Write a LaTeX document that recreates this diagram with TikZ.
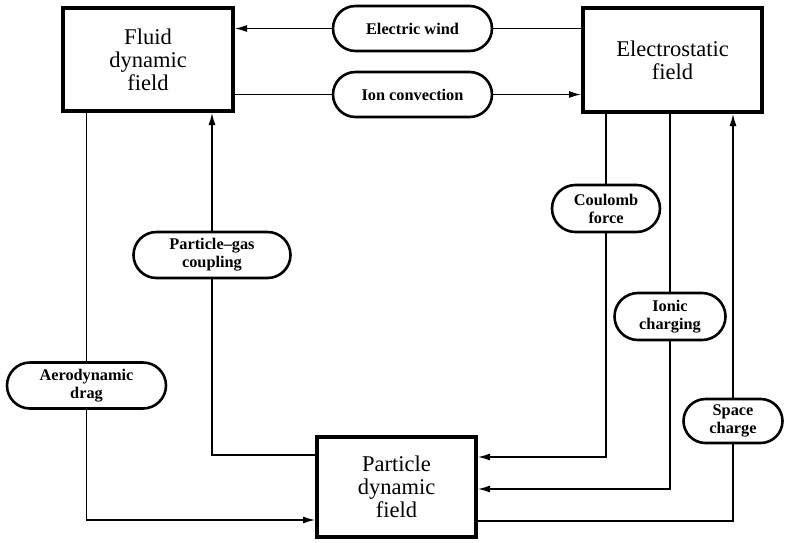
\documentclass[tikz,border=0pt]{standalone}
\usepackage{fontspec}
\setmainfont{Liberation Serif}
\usetikzlibrary{arrows.meta,shapes.misc}
\begin{document}
\begin{tikzpicture}[x=1pt,y=-1pt,
  field/.style={draw,line width=4pt,inner sep=0pt,align=center,
    font=\fontsize{22.5}{23}\selectfont},
  pill/.style={draw,rounded rectangle,line width=2.6pt,inner sep=0pt,align=center,
    font=\bfseries\fontsize{16.3}{18}\selectfont},
  conn/.style={line width=1.3pt},
  arr/.style={conn,-{Latex[length=12pt,width=7pt]}}]
\useasboundingbox (0,0) rectangle (785,542);
\node[field,minimum width=170pt,minimum height=103pt] (fluid) at (148,59.5) {Fluid\\dynamic\\field};
\node[field,minimum width=179pt,minimum height=104pt] (elec) at (672.5,60) {Electrostatic\\field};
\node[field,minimum width=159pt,minimum height=100pt] (part) at (396.5,487) {Particle\\dynamic\\field};
\node[pill,minimum width=159pt,minimum height=45pt] (wind) at (412.5,28.5) {Electric wind};
\node[pill,minimum width=159pt,minimum height=45pt] (ionc) at (412.5,94.5) {Ion convection};
\node[pill,minimum width=108pt,minimum height=47pt] (coul) at (606,208.5) {Coulomb\\force};
\node[pill,minimum width=111pt,minimum height=47pt] (ionic) at (670,316.5) {Ionic\\charging};
\node[pill,minimum width=99pt,minimum height=44pt] (space) at (733,421) {Space\\charge};
\node[pill,minimum width=159pt,minimum height=46pt] (aero) at (86.5,385.5) {Aerodynamic\\drag};
\node[pill,minimum width=157pt,minimum height=46pt] (pgc) at (212,255) {Particle--gas\\coupling};
% electric wind
\draw[conn] (wind.east) -- (wind.east -| elec.west);
\draw[arr] (wind.west) -- (wind.west -| fluid.east);
% ion convection
\draw[conn] (ionc.west -| fluid.east) -- (ionc.west);
\draw[arr] (ionc.east) -- (ionc.east -| elec.west);
% aerodynamic drag
\draw[conn] (aero.north |- fluid.south) -- (aero.north);
\draw[arr] (aero.south) |- ([yshift=-33pt]part.west);
% particle-gas coupling
\draw[arr] (pgc.north) -- (pgc.north |- fluid.south);
\draw[conn] (pgc.south) |- ([yshift=32pt]part.west);
% coulomb force
\draw[conn] (coul.north |- elec.south) -- (coul.north);
\draw[arr] (coul.south) |- ([yshift=30pt]part.east);
% ionic charging
\draw[conn] (ionic.north |- elec.south) -- (ionic.north);
\draw[arr] (ionic.south) |- ([yshift=-2pt]part.east);
% space charge
\draw[arr] (space.north) -- (space.north |- elec.south);
\draw[conn] ([yshift=-34pt]part.east) -| (space.south);
\end{tikzpicture}
\end{document}
